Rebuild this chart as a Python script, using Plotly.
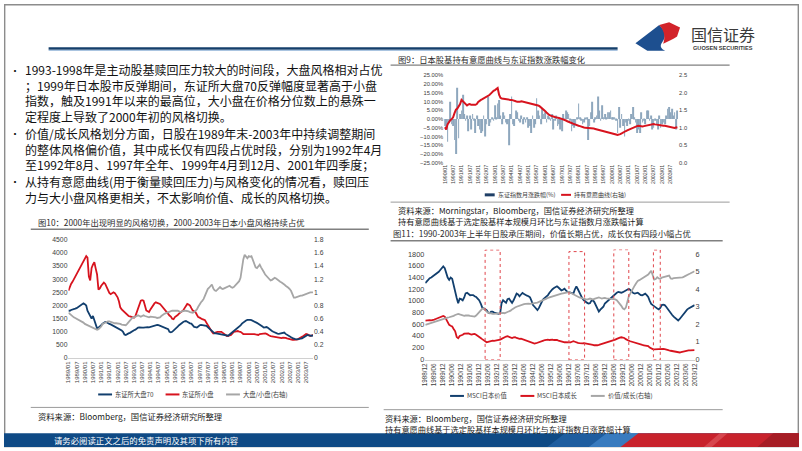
import pandas as pd
import plotly.graph_objects as go

W, H = 802, 451
CJK = "Noto Sans CJK SC"
LAT = "Liberation Sans"


def fx(x):
    return x / W


def fy(y):
    return 1 - y / H


# ---------------- Fig 9 data (monthly, 1990/01 - 2003/12) ----------------
fig9_months = pd.date_range("1990-01-01", "2003-12-01", freq="MS")
topix_monthly_ret = (
    [-4, -6, -13, -2, 10, -3, -4, -12, -20, 18, -11, 3]
    + [5, 14, 3, -1, 2, -7, 2, -6, 3, -1, -8, 2]
    + [-4, -6, -8, -7, 2, -10, -3, 13, -4, -2, 1, -1]
    + [8, 1, 9, 11, 2, -3, 4, 2, -2, -3, -15, 3]
    + [13, -3, -4, 5, 4, -1, -2, 2, -3, 1, -2, 1]
    + [-5, -4, -8, 2, -5, -3, 12, 5, 2, -3, 6, 3]
    + [4, -2, 2, 1, -1, 3, -6, -1, 2, -4, -3, -6]
    + [-7, 3, -1, 5, 4, 3, -1, -7, -4, -5, -3, 1]
    + [9, 1, -1, -3, -2, 0.5, 1, -12, -4, 4, 10, -2]
    + [1, 2, 13, 5, -1, 8, 1, 3, 1, 4, 4, 5]
    + [1, 1, 1, -1, -8, 7, -5, 3, -4, -10, -2, -4]
    + [-1, -3, 3, 7, 1, -2, -8, -6, -8, 4, -2, -1]
    + [-3, 5, 5, -1, 2, -6, -5, -1, -3, -6, 2, -5]
    + [-3, -2, -3, 2, 6, 7, 4, 6, 2, 4, -6, 5]
)
holding_willingness = (
    [1.02, 0.95, 1.10, 1.18, 1.22, 1.25, 1.30, 1.42, 1.52, 1.55, 1.62, 1.68]
    + [1.80, 1.76, 1.70, 1.66, 1.64, 1.67, 1.68, 1.66, 1.67, 1.66, 1.66, 1.68]
    + [1.74, 1.78, 1.80, 1.82, 1.84, 1.86, 1.88, 1.92, 1.94, 1.98, 2.03, 2.06]
    + [2.08, 2.12, 2.14, 1.95, 1.86, 1.84, 1.83, 1.84, 1.82, 1.82, 1.81, 1.80]
    + [1.80, 1.78, 1.78, 1.76, 1.75, 1.74, 1.75, 1.76, 1.75, 1.74, 1.74, 1.73]
    + [1.72, 1.72, 1.71, 1.70, 1.69, 1.68, 1.66, 1.64, 1.62, 1.59, 1.56, 1.52]
    + [1.48, 1.44, 1.40, 1.37, 1.35, 1.33, 1.32, 1.31, 1.30, 1.30, 1.28, 1.27]
    + [1.26, 1.25, 1.23, 1.21, 1.19, 1.18, 1.16, 1.14, 1.12, 1.10, 1.08, 1.07]
    + [1.06, 1.05, 1.03, 1.02, 1.01, 1.00, 1.00, 0.99, 1.00, 1.00, 0.99, 0.98]
    + [0.97, 0.96, 0.95, 0.95, 0.94, 0.93, 0.92, 0.91, 0.90, 0.89, 0.88, 0.87]
    + [0.85, 0.83, 0.82, 0.81, 0.80, 0.80, 0.82, 0.84, 0.87, 0.89, 0.91, 0.93]
    + [0.95, 0.97, 0.99, 1.01, 1.03, 1.04, 1.05, 1.06, 1.05, 1.04, 1.04, 1.05]
    + [1.06, 1.07, 1.08, 1.09, 1.10, 1.11, 1.11, 1.10, 1.09, 1.08, 1.08, 1.07]
    + [1.07, 1.06, 1.06, 1.05, 1.04, 1.04, 1.03, 1.01, 0.99, 1.00, 1.01, 1.02]
)

# ---------------- Fig 10 data (monthly, 1989/01 - 2003/12) ----------------
fig10_months = pd.date_range("1989-01-01", "2003-12-01", freq="MS")
tse_large70 = (
    [1810, 1800, 1830, 1840, 1850, 1880, 1900, 1940, 1960, 2000, 2030, 2085]
    + [2050, 2000, 1800, 1690, 1560, 1500, 1600, 1440, 1250, 1130, 1160, 1190]
    + [1250, 1310, 1330, 1375, 1360, 1310, 1300, 1280, 1250, 1230, 1200, 1190]
    + [1160, 1130, 1100, 1050, 1000, 900, 880, 920, 940, 960, 1000, 1030]
    + [1060, 1080, 1120, 1160, 1170, 1150, 1160, 1160, 1170, 1190, 1180, 1170]
    + [1190, 1200, 1210, 1230, 1250, 1260, 1250, 1230, 1220, 1190, 1170, 1150]
    + [1130, 1100, 1000, 980, 1000, 1060, 1120, 1160, 1200, 1250, 1300, 1350]
    + [1375, 1400, 1410, 1380, 1340, 1320, 1310, 1250, 1190, 1180, 1160, 1200]
    + [1250, 1260, 1250, 1240, 1240, 1230, 1180, 1130, 1050, 1000, 960, 940]
    + [940, 930, 920, 915, 900, 880, 870, 860, 840, 850, 900, 940]
    + [1000, 1040, 1090, 1120, 1150, 1190, 1240, 1310, 1350, 1410, 1430, 1450]
    + [1460, 1450, 1440, 1420, 1400, 1375, 1340, 1310, 1280, 1250, 1200, 1160]
    + [1160, 1180, 1150, 1100, 1060, 1030, 1000, 970, 940, 930, 920, 940]
    + [950, 965, 970, 920, 880, 850, 810, 790, 760, 730, 720, 715]
    + [715, 720, 740, 750, 780, 815, 840, 880, 860, 840, 850, 860]
)
tse_small = (
    [2560, 2750, 2820, 2900, 3000, 3060, 3150, 3300, 3380, 3450, 3600, 3700]
    + [3800, 3880, 3820, 3100, 2950, 3430, 3550, 3650, 3400, 3180, 2600, 2650]
    + [2750, 2800, 2870, 2820, 2700, 2560, 2480, 2430, 2450, 2500, 2470, 2400]
    + [2310, 2150, 1930, 1850, 1800, 1750, 1680, 1620, 1600, 1590, 1570, 1550]
    + [1540, 1600, 1750, 1850, 2100, 2180, 2200, 2180, 2000, 1810, 1780, 1750]
    + [1850, 1950, 2000, 2080, 2120, 2100, 2060, 2060, 2000, 1930, 1850, 1780]
    + [1750, 1680, 1620, 1580, 1500, 1480, 1560, 1590, 1640, 1690, 1720, 1780]
    + [1810, 1900, 2000, 2060, 2040, 2000, 1900, 1810, 1780, 1750, 1650, 1560]
    + [1540, 1500, 1480, 1460, 1440, 1350, 1250, 1150, 1060, 1000, 940, 960]
    + [1000, 1000, 1000, 1000, 1000, 960, 915, 880, 840, 850, 870, 880]
    + [940, 1000, 1010, 1030, 1030, 1010, 1000, 960, 915, 915, 915, 915]
    + [915, 930, 940, 930, 915, 900, 880, 880, 915, 920, 940, 920]
    + [940, 920, 880, 860, 840, 830, 815, 800, 790, 780, 770, 750]
    + [760, 780, 780, 770, 750, 730, 700, 690, 690, 690, 690, 700]
    + [715, 750, 790, 810, 840, 870, 915, 900, 860, 840, 860, 880]
)
large_small_ratio = (
    [0.69, 0.67, 0.65, 0.64, 0.62, 0.61, 0.60, 0.58, 0.57, 0.56, 0.55, 0.54]
    + [0.52, 0.51, 0.50, 0.49, 0.48, 0.47, 0.46, 0.45, 0.44, 0.43, 0.44, 0.46]
    + [0.48, 0.52, 0.53, 0.54, 0.55, 0.56, 0.56, 0.55, 0.55, 0.54, 0.53, 0.53]
    + [0.53, 0.52, 0.52, 0.51, 0.51, 0.50, 0.50, 0.52, 0.55, 0.58, 0.60, 0.62]
    + [0.62, 0.63, 0.64, 0.65, 0.64, 0.63, 0.64, 0.65, 0.64, 0.63, 0.63, 0.62]
    + [0.63, 0.63, 0.62, 0.62, 0.62, 0.61, 0.61, 0.62, 0.64, 0.66, 0.67, 0.68]
    + [0.69, 0.70, 0.70, 0.71, 0.72, 0.72, 0.72, 0.73, 0.72, 0.71, 0.70, 0.71]
    + [0.72, 0.72, 0.72, 0.72, 0.71, 0.70, 0.69, 0.69, 0.70, 0.72, 0.74, 0.78]
    + [0.82, 0.85, 0.87, 0.90, 0.95, 1.00, 1.05, 1.07, 1.10, 1.12, 1.06, 1.03]
    + [1.02, 1.04, 1.07, 1.08, 1.06, 1.05, 1.06, 1.07, 1.08, 1.09, 1.10, 1.08]
    + [1.07, 1.08, 1.10, 1.12, 1.15, 1.17, 1.22, 1.37, 1.50, 1.57, 1.54, 1.52]
    + [1.55, 1.54, 1.55, 1.48, 1.42, 1.38, 1.37, 1.40, 1.42, 1.38, 1.35, 1.31]
    + [1.27, 1.25, 1.22, 1.20, 1.18, 1.19, 1.20, 1.22, 1.21, 1.19, 1.17, 1.16]
    + [1.15, 1.14, 1.12, 1.10, 1.09, 1.07, 1.05, 1.02, 0.97, 0.92, 0.92, 0.93]
    + [0.94, 0.94, 0.95, 0.95, 0.96, 0.97, 0.98, 0.98, 0.99, 1.00, 1.00, 1.00]
)

# ---------------- Fig 11 data (monthly, 1988/12 - 2003/12) ----------------
fig11_months = pd.date_range("1988-12-01", "2003-12-01", freq="MS")
msci_value = (
    [1305]
    + [1340, 1360, 1390, 1400, 1420, 1430, 1460, 1480, 1500, 1530, 1560, 1590]
    + [1560, 1450, 1400, 1360, 1400, 1380, 1260, 1150, 1050, 960, 1040, 1030]
    + [1010, 1060, 1130, 1140, 1110, 1097, 1100, 1100, 1080, 1069, 1040, 1012]
    + [960, 890, 872, 850, 840, 800, 790, 816, 815, 800, 790, 787]
    + [780, 790, 960, 1012, 980, 967, 1030, 1040, 1000, 967, 1010, 1080]
    + [1125, 1110, 1080, 1110, 1136, 1120, 1097, 1090, 1080, 1060, 1000, 930]
    + [900, 870, 844, 880, 950, 990, 1030, 1050, 1080, 1100, 1140, 1180]
    + [1200, 1220, 1235, 1250, 1230, 1200, 1180, 1190, 1209, 1180, 1153, 1150]
    + [1140, 1130, 1125, 1200, 1249, 1200, 1150, 1080, 1040, 1010, 984, 970]
    + [956, 960, 1000, 1012, 980, 928, 860, 816, 850, 872, 900, 956]
    + [980, 1000, 1020, 1050, 1069, 1100, 1125, 1140, 1153, 1150, 1140, 1150]
    + [1165, 1170, 1190, 1209, 1190, 1153, 1135, 1125, 1130, 1140, 1120, 1100]
    + [1097, 1110, 1125, 1100, 1069, 1000, 950, 928, 900, 889, 870, 855]
    + [880, 928, 935, 928, 900, 860, 844, 800, 759, 730, 703, 680]
    + [664, 690, 720, 760, 800, 816, 850, 872, 885, 900, 910, 928]
)
msci_growth = (
    [664]
    + [670, 675, 672, 668, 670, 680, 690, 700, 705, 712, 720, 742]
    + [730, 686, 640, 590, 575, 562, 520, 480, 380, 360, 400, 405]
    + [420, 439, 445, 450, 445, 430, 422, 430, 435, 420, 405, 390]
    + [365, 345, 326, 310, 292, 300, 309, 315, 320, 315, 320, 325]
    + [320, 335, 349, 365, 382, 390, 394, 385, 370, 365, 375, 377]
    + [365, 354, 350, 354, 345, 335, 326, 318, 309, 300, 292, 280]
    + [270, 275, 281, 290, 304, 310, 320, 330, 337, 335, 330, 335]
    + [337, 330, 335, 330, 320, 309, 305, 300, 292, 290, 285, 281]
    + [290, 300, 309, 300, 285, 281, 275, 270, 272, 275, 272, 270]
    + [265, 258, 253, 248, 240, 236, 240, 247, 255, 265, 270, 276]
    + [281, 292, 304, 312, 320, 328, 337, 350, 365, 372, 377, 377]
    + [365, 345, 326, 318, 309, 300, 292, 280, 270, 262, 253, 245]
    + [245, 240, 236, 230, 225, 200, 180, 175, 169, 172, 176, 178]
    + [180, 180, 178, 172, 169, 160, 152, 146, 141, 132, 124, 118]
    + [112, 116, 124, 132, 141, 146, 152, 152, 152, 155, 156, 158]
)
value_growth_ratio = (
    [1.97]
    + [2.00, 2.02, 2.04, 2.06, 2.09, 2.12, 2.16, 2.19, 2.22, 2.25, 2.28, 2.31]
    + [2.34, 2.36, 2.38, 2.40, 2.42, 2.44, 2.48, 2.53, 2.57, 2.59, 2.56, 2.53]
    + [2.50, 2.48, 2.50, 2.52, 2.50, 2.48, 2.46, 2.45, 2.44, 2.50, 2.59, 2.70]
    + [2.81, 2.88, 2.91, 2.80, 2.72, 2.66, 2.63, 2.61, 2.59, 2.59, 2.59, 2.60]
    + [2.62, 2.64, 2.66, 2.65, 2.63, 2.66, 2.70, 2.72, 2.78, 2.85, 2.92, 2.96]
    + [3.00, 3.04, 3.07, 3.09, 3.12, 3.15, 3.17, 3.19, 3.18, 3.17, 3.18, 3.19]
    + [3.18, 3.20, 3.24, 3.28, 3.31, 3.34, 3.37, 3.41, 3.46, 3.51, 3.54, 3.56]
    + [3.60, 3.64, 3.66, 3.69, 3.71, 3.73, 3.75, 3.77, 3.79, 3.80, 3.82, 3.84]
    + [3.80, 3.75, 3.70, 3.66, 3.62, 3.56, 3.53, 3.51, 3.48, 3.47, 3.45, 3.41]
    + [3.44, 3.47, 3.45, 3.41, 3.45, 3.47, 3.50, 3.53, 3.50, 3.47, 3.49, 3.51]
    + [3.48, 3.47, 3.45, 3.47, 3.47, 3.45, 3.42, 3.38, 3.28, 3.19, 3.05, 2.91]
    + [2.85, 2.95, 3.30, 3.60, 3.75, 3.94, 4.13, 4.22, 4.35, 4.48, 4.52, 4.57]
    + [4.62, 4.68, 4.74, 4.80, 4.84, 4.95, 5.06, 4.80, 4.55, 4.58, 4.69, 4.62]
    + [4.60, 4.66, 4.69, 4.70, 4.73, 4.75, 4.78, 4.62, 4.60, 4.63, 4.64, 4.65]
    + [4.65, 4.64, 4.65, 4.68, 4.72, 4.78, 4.84, 4.86, 4.90, 4.94, 4.98, 5.03]
)
# periods in which growth outperformed (dotted boxes): start, end, box top (left axis)
growth_periods = [
    ("1992-04-01", "1993-02-01", 1873),
    ("1996-12-01", "1997-10-15", 1845),
    ("1999-06-01", "2000-04-01", 1878),
    ("2001-08-15", "2002-01-01", 1873),
]

assert len(topix_monthly_ret) == len(fig9_months) == len(holding_willingness)
assert len(tse_large70) == len(fig10_months) == len(tse_small) == len(large_small_ratio)
assert len(msci_value) == len(fig11_months) == len(msci_growth) == len(value_growth_ratio)

# ---------------- text ----------------
bullet_paragraphs = [
    [
        "1993-1998年是主动股基赎回压力较大的时间段，大盘风格相对占优",
        "；1999年日本股市反弹期间，东证所大盘70反弹幅度显著高于小盘",
        "指数，触及1991年以来的最高位，大小盘在价格分位数上的悬殊一",
        "定程度上导致了2000年初的风格切换。",
    ],
    [
        "价值/成长风格划分方面，日股在1989年末-2003年中持续调整期间",
        "的整体风格偏价值，其中成长仅有四段占优时段，分别为1992年4月",
        "至1992年8月、1997年全年、1999年4月到12月、2001年四季度；",
    ],
    [
        "从持有意愿曲线(用于衡量赎回压力)与风格变化的情况看，赎回压",
        "力与大小盘风格更相关，不太影响价值、成长的风格切换。",
    ],
]
fig9_source = [
    "资料来源：Morningstar，Bloomberg，国信证券经济研究所整理",
    "持有意愿曲线基于选定股基样本规模月环比与东证指数月涨跌幅计算",
]
fig11_source = [
    "资料来源：Bloomberg，国信证券经济研究所整理",
    "持有意愿曲线基于选定股基样本规模月环比与东证指数月涨跌幅计算",
]

NAVY = "#123f6e"
RED = "#d7131e"
GRAY = "#a6a6a6"
BAR = "#8ea7bd"
TICK = "#404040"

fig = go.Figure()

# Fig 9
fig.add_trace(go.Bar(x=fig9_months, y=topix_monthly_ret, marker=dict(color=BAR, line=dict(width=0)),
                     xaxis="x", yaxis="y", name="东证指数月涨跌幅(%)"))
fig.add_trace(go.Scatter(x=fig9_months, y=holding_willingness, mode="lines",
                         line=dict(color=RED, width=2), xaxis="x", yaxis="y2", name="持有意愿曲线(右轴)"))
# Fig 10
fig.add_trace(go.Scatter(x=fig10_months, y=large_small_ratio, mode="lines",
                         line=dict(color=GRAY, width=1.8), xaxis="x2", yaxis="y4", name="大盘/小盘(右轴)"))
fig.add_trace(go.Scatter(x=fig10_months, y=tse_small, mode="lines",
                         line=dict(color=RED, width=1.8), xaxis="x2", yaxis="y3", name="东证所小盘"))
fig.add_trace(go.Scatter(x=fig10_months, y=tse_large70, mode="lines",
                         line=dict(color=NAVY, width=1.8), xaxis="x2", yaxis="y3", name="东证所大盘70"))
# Fig 11
fig.add_trace(go.Scatter(x=fig11_months, y=value_growth_ratio, mode="lines",
                         line=dict(color=GRAY, width=1.8), xaxis="x3", yaxis="y6", name="价值/成长(右轴)"))
fig.add_trace(go.Scatter(x=fig11_months, y=msci_growth, mode="lines",
                         line=dict(color=RED, width=1.8), xaxis="x3", yaxis="y5", name="MSCI日本成长"))
fig.add_trace(go.Scatter(x=fig11_months, y=msci_value, mode="lines",
                         line=dict(color=NAVY, width=1.8), xaxis="x3", yaxis="y5", name="MSCI日本价值"))


def xdate(dom, anchor, tick0, rng, size):
    return dict(domain=[fx(dom[0]), fx(dom[1])], anchor=anchor, type="date", range=rng,
                tick0=tick0, dtick="M6", tickformat="%Y/%m", tickangle=-90,
                tickfont=dict(family=LAT, size=size, color=TICK), showgrid=False,
                zeroline=False, ticks="", showline=False)


def ynum(dom, rng, dtick, size, side="left", overlay=None, anchor=None, fmt=None, suffix=""):
    d = dict(domain=[fy(dom[1]), fy(dom[0])], range=rng, dtick=dtick, tick0=0, side=side,
             tickfont=dict(family=LAT, size=size, color=TICK), showgrid=False, zeroline=False,
             ticks="", showline=False, ticksuffix=suffix)
    if fmt:
        d["tickformat"] = fmt
    if overlay:
        d["overlaying"] = overlay
    if anchor:
        d["anchor"] = anchor
    return d


x2 = xdate((65, 311.7), "y3", "1989-01-01", ["1989-01-01", "2003-12-01"], 6)
x2.update(showline=True, linecolor="#d0d0d0", linewidth=1)
x3 = xdate((425, 696.7), "y5", "1988-12-01", ["1988-12-01", "2003-12-01"], 6.3)
x3.update(showline=True, linecolor="#d0d0d0", linewidth=1)

fig.update_layout(
    width=W, height=H, autosize=False, margin=dict(l=0, r=0, t=0, b=0),
    paper_bgcolor="white", plot_bgcolor="rgba(0,0,0,0)", showlegend=False, bargap=0.45,
    xaxis=xdate((444, 680), "y", "1990-01-01", ["1989-12-17", "2003-12-16"], 5.3),
    yaxis=ynum((72.7, 161.7), [-25, 25], 5, 5.8, fmt=".2f", suffix="%", anchor="x"),
    yaxis2=ynum((72.7, 161.7), [0, 2.5], 0.5, 5.8, side="right", overlay="y", anchor="x", fmt=".1f"),
    xaxis2=x2,
    yaxis3=ynum((240, 360.5), [0, 4500], 500, 6.8, anchor="x2"),
    yaxis4=ynum((240, 360.5), [0, 1.8], 0.2, 6.8, side="right", overlay="y3", anchor="x2"),
    xaxis3=x3,
    yaxis5=ynum((250.0, 362.4), [-12, 1880], 200, 7.3, anchor="x3"),
    yaxis6=ynum((250.0, 362.4), [-0.04, 6.2667], 1, 7.3, side="right", overlay="y5", anchor="x3"),
)

shapes = []
ann = []


def hline(x0, x1, y, color, width):
    shapes.append(dict(type="line", xref="paper", yref="paper", x0=fx(x0), x1=fx(x1),
                       y0=fy(y), y1=fy(y), line=dict(color=color, width=width)))


def rect(x0, y0, x1, y1, fill, opacity=1.0):
    shapes.append(dict(type="rect", xref="paper", yref="paper", x0=fx(x0), x1=fx(x1),
                       y0=fy(y1), y1=fy(y0), fillcolor=fill, line=dict(width=0), opacity=opacity,
                       layer="above"))


def ppath(cmds):
    out = []
    for c in cmds:
        out.append(c if isinstance(c, str) else f"{fx(c[0]):.5f},{fy(c[1]):.5f}")
    return " ".join(out)


def poly(pts, fill, opacity=1.0):
    cmds = ["M", pts[0]]
    for p in pts[1:]:
        cmds += ["L", p]
    cmds.append("Z")
    shapes.append(dict(type="path", xref="paper", yref="paper", path=ppath(cmds), fillcolor=fill,
                       line=dict(width=0), opacity=opacity, layer="above"))


def txt(x, y, s, size, color="#1a1a1a", anchor="left", family=CJK):
    ann.append(dict(x=fx(x), y=fy(y), xref="paper", yref="paper", text=s, showarrow=False,
                    xanchor=anchor, yanchor="middle", font=dict(family=family, size=size, color=color),
                    borderpad=0, align="left"))


# slide frame
shapes.append(dict(type="rect", xref="paper", yref="paper", x0=fx(0.7), x1=fx(801.3), y0=fy(450.5),
                   y1=fy(0.7), line=dict(color="#8c8c8c", width=1.4), fillcolor="rgba(0,0,0,0)"))
# header line
hline(45, 619, 45.3, "#153f6b", 2.6)
hline(45, 619, 47.2, "#9dbbdb", 1)
# logo
shapes.append(dict(type="path", xref="paper", yref="paper", line=dict(width=0), fillcolor="#1d4f8f",
                   path=ppath(["M", (637, 40), "L", (661, 21.5), "C", (668, 28), (668, 34), (664, 39),
                               "C", (661, 43), (663, 46), (667, 47.5), "L", (649, 47.5), "Z"])))
shapes.append(dict(type="path", xref="paper", yref="paper", line=dict(width=0), fillcolor="#d2232a",
                   path=ppath(["M", (661, 21.5), "L", (671, 18.5), "L", (682, 24), "L", (679, 33),
                               "C", (675, 36), (670, 38), (665, 40.5),
                               "C", (667, 35), (667, 28), (661, 21.5), "Z"])))
txt(725, 30.5, "国信证券", 16, "#3a3a3a", "center")
txt(725, 44.3, "<b>GUOSEN SECURITIES</b>", 5.6, "#3a3a3a", "center", LAT)

# left bullet text: one text block per bullet
PARA_SIZE = 12.0
para_centre_y = [90.6, 147.6, 189.0]
for lines, cy in zip(bullet_paragraphs, para_centre_y):
    txt(20, cy, "<br>".join(lines), PARA_SIZE, "#111111")
    first_y = cy - (len(lines) - 1) * 1.3 * PARA_SIZE / 2
    txt(5, first_y, "•", 10, "#111111")

# Fig 9 frame text
txt(396, 55.5, "图9：日本股基持有意愿曲线与东证指数涨跌幅变化", 8.3, "#2b2b2b")
hline(390, 732, 62.3, "#808080", 1.3)
hline(390, 732, 201.7, "#9a9a9a", 1)
txt(396.5, 215.6, "<br>".join(fig9_source), 8.2, "#1a1a1a")
# Fig 9 legend
hline(485, 495, 194.3, "#1f3f66", 3)
txt(497, 194.3, "东证指数月涨跌幅(%)", 6, "#404040")
hline(562, 572, 194.3, RED, 2)
txt(574, 194.3, "持有意愿曲线(右轴)", 6, "#404040")

# Fig 10 frame text
txt(33, 221.8, "图10：2000年出现明显的风格切换，2000-2003年日本小盘风格持续占优", 8.3, "#2b2b2b")
hline(27, 368, 229.3, "#808080", 1.3)
hline(27, 368, 410.7, "#9a9a9a", 1)
txt(33, 419.3, "资料来源：Bloomberg，国信证券经济研究所整理", 8.3, "#1a1a1a")
leg10 = [(95, NAVY, "东证所大盘70"), (163, RED, "东证所小盘"), (224, GRAY, "大盘/小盘(右轴)")]
for x0, c, s in leg10:
    hline(x0, x0 + 14, 397.5, c, 2)
    txt(x0 + 16, 397.5, s, 6.3, "#404040")

# Fig 11 frame text
txt(391.5, 233.3, "图11：1990-2003年上半年日股承压期间，价值长期占优，成长仅有四段小幅占优", 8.3, "#2b2b2b")
hline(390, 725, 241, "#808080", 1.3)
hline(383, 725, 413, "#9a9a9a", 1)
txt(383, 426.6, "<br>".join(fig11_source), 8.2, "#1a1a1a")
leg11 = [(450, NAVY, "MSCI日本价值"), (521, RED, "MSCI日本成长"), (592, GRAY, "价值/成长(右轴)")]
for x0, c, s in leg11:
    hline(x0, x0 + 14, 399, c, 2)
    txt(x0 + 16, 399, s, 6.3, "#404040")

# growth-dominant periods (dotted boxes, data coordinates)
for s0, s1, top in growth_periods:
    shapes.append(dict(type="rect", xref="x3", yref="y5", x0=s0, x1=s1, y0=-12, y1=top,
                       line=dict(color="#e0454b", width=1, dash="dot"), fillcolor="rgba(0,0,0,0)"))

# footer
rect(0, 437, 802, 451, "#0f4a85")
poly([(548, 451), (566, 437), (650, 437), (632, 451)], "#2c6db5", 0.55)
poly([(590, 451), (608, 437), (650, 437), (632, 451)], "#4a8fd6", 0.6)
poly([(622, 451), (640, 437), (802, 437), (802, 451)], "#c8222c")
poly([(706, 451), (722, 437), (730, 437), (714, 451)], "#e66a70", 0.5)
poly([(760, 451), (776, 437), (802, 437), (802, 451)], "#a61d25")
txt(49, 444.2, "请务必阅读正文之后的免责声明及其项下所有内容", 8.4, "#ffffff")

fig.update_layout(shapes=shapes, annotations=ann)
fig.write_html("out.html")
